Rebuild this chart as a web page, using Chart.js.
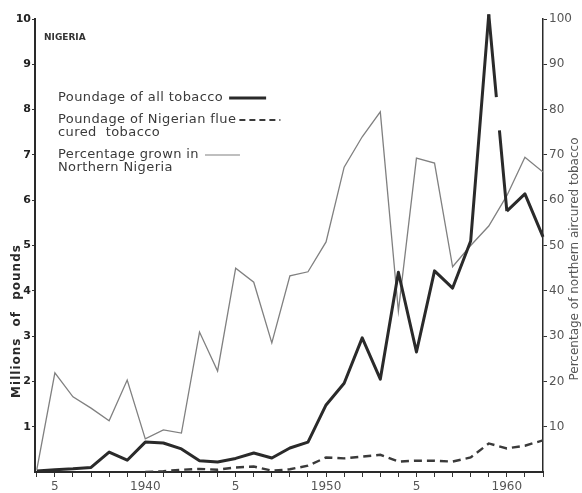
<!DOCTYPE html>
<html>
<head>
<meta charset="utf-8">
<script src="https://cdn.jsdelivr.net/npm/chart.js@4.4.1/dist/chart.umd.min.js"></script>
<style>
  html, body { margin: 0; padding: 0; background: #fff; }
  #wrap { width: 582px; height: 493px; }
</style>
</head>
<body>
<div id="wrap"><canvas id="c" width="582" height="493"></canvas></div>
<script>
// Nigerian tobacco output, 1934-1962
const years = [1934, 1935, 1936, 1937, 1938, 1939, 1940, 1941, 1942, 1943, 1944, 1945, 1946, 1947, 1948,
               1949, 1950, 1951, 1952, 1953, 1954, 1955, 1956, 1957, 1958, 1959, 1960, 1961, 1962];

// Poundage of all tobacco (millions of lb)
const allTobacco = [0.02, 0.05, 0.07, 0.1, 0.44, 0.26, 0.66, 0.64, 0.51, 0.25, 0.22, 0.3, 0.42, 0.31, 0.53,
                    0.66, 1.48, 1.96, 2.96, 2.05, 4.41, 2.65, 4.44, 4.06, 5.1, 10.1, 5.76, 6.14, 5.19];

// Poundage of Nigerian flue-cured tobacco (millions of lb), recorded from 1940
const flueCured = [null, null, null, null, null, null, 0.0, 0.02, 0.05, 0.07, 0.05, 0.1, 0.12, 0.03, 0.06,
                   0.14, 0.32, 0.3, 0.34, 0.38, 0.23, 0.25, 0.25, 0.23, 0.32, 0.63, 0.52, 0.58, 0.7];

// Percentage of air-cured tobacco grown in Northern Nigeria
const northernPct = [0.5, 21.9, 16.6, 14.1, 11.3, 20.3, 7.3, 9.3, 8.6, 30.9, 22.3, 45, 41.9, 28.5, 43.3,
                     44.2, 50.8, 67.3, 74, 79.5, 35.5, 69.3, 68.2, 45.3, 50, 54.3, 61, 69.5, 66.2];

// Axis ticks
const poundTicks = [1, 2, 3, 4, 5, 6, 7, 8, 9, 10];
const percentTicks = [10, 20, 30, 40, 50, 60, 70, 80, 90, 100];
const labelledYears = [1935, 1940, 1945, 1950, 1955, 1960];
const yearTickText = ['5', '1940', '5', '1950', '5', '1960'];

// The printed 1959-60 stroke of the all-tobacco line is interrupted part-way down
const brokenSegmentStart = years.indexOf(1959);

const INK = '#2a2a2a';
const GREY = '#808080';
const FONT = '"DejaVu Sans", sans-serif';

const toPoints = arr => years.map((yr, i) => ({ x: yr, y: arr[i] }));

const annotations = {
  id: 'annotations',
  afterDraw(chart) {
    const ctx = chart.ctx;
    ctx.save();
    ctx.textBaseline = 'middle';
    ctx.textAlign = 'left';

    // region label
    ctx.fillStyle = '#333';
    ctx.font = 'bold 9px ' + FONT;
    ctx.fillText('NIGERIA', 44, 38);

    // key
    ctx.font = '13px ' + FONT;
    ctx.letterSpacing = '0.4px';
    ctx.fillStyle = '#3a3a3a';
    const kx = 58;

    let w = ctx.measureText('Poundage of all tobacco').width;
    ctx.fillText('Poundage of all tobacco', kx, 98);
    ctx.beginPath(); ctx.strokeStyle = INK; ctx.lineWidth = 3; ctx.setLineDash([]);
    ctx.moveTo(kx + w + 6, 98); ctx.lineTo(kx + w + 43, 98); ctx.stroke();

    w = ctx.measureText('Poundage of Nigerian flue').width;
    ctx.fillText('Poundage of Nigerian flue', kx, 120);
    ctx.beginPath(); ctx.strokeStyle = '#3a3a3a'; ctx.lineWidth = 2; ctx.setLineDash([6, 4]);
    ctx.moveTo(kx + w + 3, 120); ctx.lineTo(kx + w + 44, 120); ctx.stroke();
    ctx.setLineDash([]);
    ctx.fillText('cured  tobacco', kx, 133);

    w = ctx.measureText('Percentage grown in').width;
    ctx.fillText('Percentage grown in', kx, 155);
    ctx.beginPath(); ctx.strokeStyle = GREY; ctx.lineWidth = 1.2;
    ctx.moveTo(kx + w + 6, 155); ctx.lineTo(kx + w + 41, 155); ctx.stroke();
    ctx.fillText('Northern Nigeria', kx, 168);

    // left axis title
    ctx.save();
    ctx.translate(17, 321);
    ctx.rotate(-Math.PI / 2);
    ctx.textAlign = 'center';
    ctx.font = 'bold 12px ' + FONT;
    ctx.letterSpacing = '1px';
    ctx.wordSpacing = '6px';
    ctx.fillStyle = '#2a2a2a';
    ctx.fillText('Millions of pounds', 0, 0);
    ctx.restore();

    // right axis title
    ctx.save();
    ctx.translate(575, 259);
    ctx.rotate(-Math.PI / 2);
    ctx.textAlign = 'center';
    ctx.font = '12px ' + FONT;
    ctx.letterSpacing = '0px';
    ctx.fillStyle = '#555';
    ctx.fillText('Percentage of northern aircured tobacco', 0, 0);
    ctx.restore();

    ctx.restore();
  }
};

new Chart(document.getElementById('c'), {
  type: 'line',
  data: {
    datasets: [
      {
        label: 'Poundage of all tobacco',
        data: toPoints(allTobacco),
        yAxisID: 'y',
        borderColor: INK,
        borderWidth: 3,
        borderJoinStyle: 'round',
        pointRadius: 0,
        tension: 0,
        clip: false,
        segment: {
          borderDash: c => {
            if (c.p0DataIndex !== brokenSegmentStart) return undefined;
            const len = Math.hypot(c.p1.x - c.p0.x, c.p1.y - c.p0.y);
            return [len * 0.42, len * 0.17, len];
          }
        }
      },
      {
        label: 'Poundage of Nigerian flue cured tobacco',
        data: toPoints(flueCured),
        yAxisID: 'y',
        borderColor: '#3a3a3a',
        borderWidth: 2.4,
        borderDash: [8, 5],
        pointRadius: 0,
        tension: 0
      },
      {
        label: 'Percentage grown in Northern Nigeria',
        data: toPoints(northernPct),
        yAxisID: 'y1',
        borderColor: GREY,
        borderWidth: 1.3,
        pointRadius: 0,
        tension: 0
      }
    ]
  },
  options: {
    responsive: false,
    animation: false,
    devicePixelRatio: 1,
    layout: { padding: { top: 19, left: 0, right: 0, bottom: 0 } },
    plugins: { legend: { display: false }, tooltip: { enabled: false } },
    scales: {
      x: {
        type: 'linear',
        min: 1933.9,
        max: 1962,
        afterBuildTicks: axis => { axis.ticks = years.map(v => ({ value: v })); },
        afterFit: axis => { axis.height = 21; },
        ticks: {
          autoSkip: false,
          maxRotation: 0,
          padding: 3,
          color: '#555',
          font: { family: FONT, size: 12 },
          callback: v => {
            const k = labelledYears.indexOf(v);
            return k >= 0 ? yearTickText[k] : '';
          }
        },
        grid: { drawOnChartArea: false, tickLength: 5, color: '#333', lineWidth: 1 },
        border: { color: INK, width: 2 }
      },
      y: {
        position: 'left',
        min: 0,
        max: 10,
        afterBuildTicks: axis => { axis.ticks = poundTicks.map(v => ({ value: v })); },
        afterFit: axis => { axis.width = 35; },
        ticks: { padding: 1, color: '#222', font: { family: FONT, size: 11, weight: 'bold' } },
        grid: { drawOnChartArea: false, tickLength: 3, color: '#333', lineWidth: 1 },
        border: { color: INK, width: 2 }
      },
      y1: {
        position: 'right',
        min: 0,
        max: 100,
        afterBuildTicks: axis => { axis.ticks = percentTicks.map(v => ({ value: v })); },
        afterFit: axis => { axis.width = 39; },
        ticks: { padding: 2, color: '#555', font: { family: FONT, size: 12 } },
        grid: { drawOnChartArea: false, tickLength: 4, color: '#333', lineWidth: 1 },
        border: { color: INK, width: 1.5 }
      }
    }
  },
  plugins: [annotations]
});
</script>
</body>
</html>
